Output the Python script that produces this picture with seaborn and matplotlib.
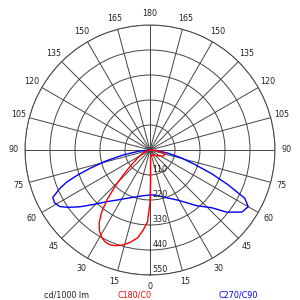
import numpy as np
import pandas as pd
import matplotlib
matplotlib.use('Agg')
import matplotlib.pyplot as plt
import matplotlib.transforms as mtransforms
import seaborn as sns

# gamma angles (deg), positive = left half of the diagram
red_deg = [-90, -85, -78, -72, -65, -58, -50, -40, -25, -10, -4, -2, -1, 0, 2, 5, 8, 12, 16, 20,
           23, 26, 29, 32, 35, 38, 41, 44, 47, 52, 58, 65, 75, 90]
red_cd = [0, 30, 62, 68, 62, 50, 38, 30, 25, 25, 30, 60, 130, 230, 317, 355, 390, 415, 435, 448,
          453, 450, 440, 420, 390, 345, 285, 220, 162, 100, 60, 35, 15, 0]

blue_deg = [-90, -85, -80, -76, -72, -69, -66, -63, -60, -56, -51, -47, -40, -29, -18, -6, 0, 10,
            25, 33, 40, 46, 51, 55, 58, 61, 64, 67, 69, 71, 73, 76, 79.5, 84, 90]
blue_cd = [0, 30, 80, 140, 209, 290, 376, 468, 499, 488, 435, 373, 320, 252, 220, 199, 198, 205,
           234, 262, 297, 345, 397, 440, 469, 480, 476, 430, 391, 335, 276, 200, 121, 50, 0]

ring_values = [110, 220, 330, 440, 550]
angle_ticks = list(range(0, 360, 15))
legend_labels = ['cd/1000 lm', 'C180/C0', 'C270/C90']

sns.set_style('white')
plt.rcParams['font.family'] = ['DejaVu Sans']

red = pd.DataFrame({'theta': np.radians(red_deg), 'cd': red_cd})
blue = pd.DataFrame({'theta': np.radians(blue_deg), 'cd': blue_cd})

fig = plt.figure(figsize=(3, 3), dpi=100)
ax = fig.add_axes([25 / 300, 25 / 300, 250 / 300, 250 / 300], projection='polar')
ax.set_theta_zero_location('S')
ax.set_theta_direction(-1)
ax.set_ylim(0, 550)

grid_kw = dict(color='#444444', linewidth=0.7)
ax.set_thetagrids(angle_ticks, labels=[''] * len(angle_ticks))
ax.set_rgrids(ring_values, labels=[''] * len(ring_values))
ax.grid(True, **grid_kw)
ax.spines['polar'].set_color('#444444')
ax.spines['polar'].set_linewidth(0.7)

sns.lineplot(data=blue, x='theta', y='cd', sort=False, estimator=None, color='blue',
             linewidth=1.0, ax=ax)
sns.lineplot(data=red, x='theta', y='cd', sort=False, estimator=None, color='red',
             linewidth=1.0, ax=ax)
ax.set_xlabel('')
ax.set_ylabel('')

# angle labels around the outside
for a in angle_ticks:
    lab = a if a <= 180 else 360 - a
    ax.text(np.radians(a), 600, str(lab), ha='center', va='center', fontsize=5.8,
            color='#222222', clip_on=False)

# intensity labels along the 0 direction
off = mtransforms.offset_copy(ax.transData, fig=fig, x=2.5, y=1.0, units='dots')
for v in ring_values:
    ax.text(0, v, str(v), ha='left', va='bottom', fontsize=5.8, color='#222222',
            transform=off)

fig.text(67 / 300, 1 - 295.5 / 300, legend_labels[0], ha='center', va='center', fontsize=5.8,
         color='#222222')
fig.text(134 / 300, 1 - 295.5 / 300, legend_labels[1], ha='center', va='center', fontsize=5.8,
         color='red')
fig.text(238 / 300, 1 - 295.5 / 300, legend_labels[2], ha='center', va='center', fontsize=5.8,
         color='blue')

fig.savefig('out.png', dpi=100)
